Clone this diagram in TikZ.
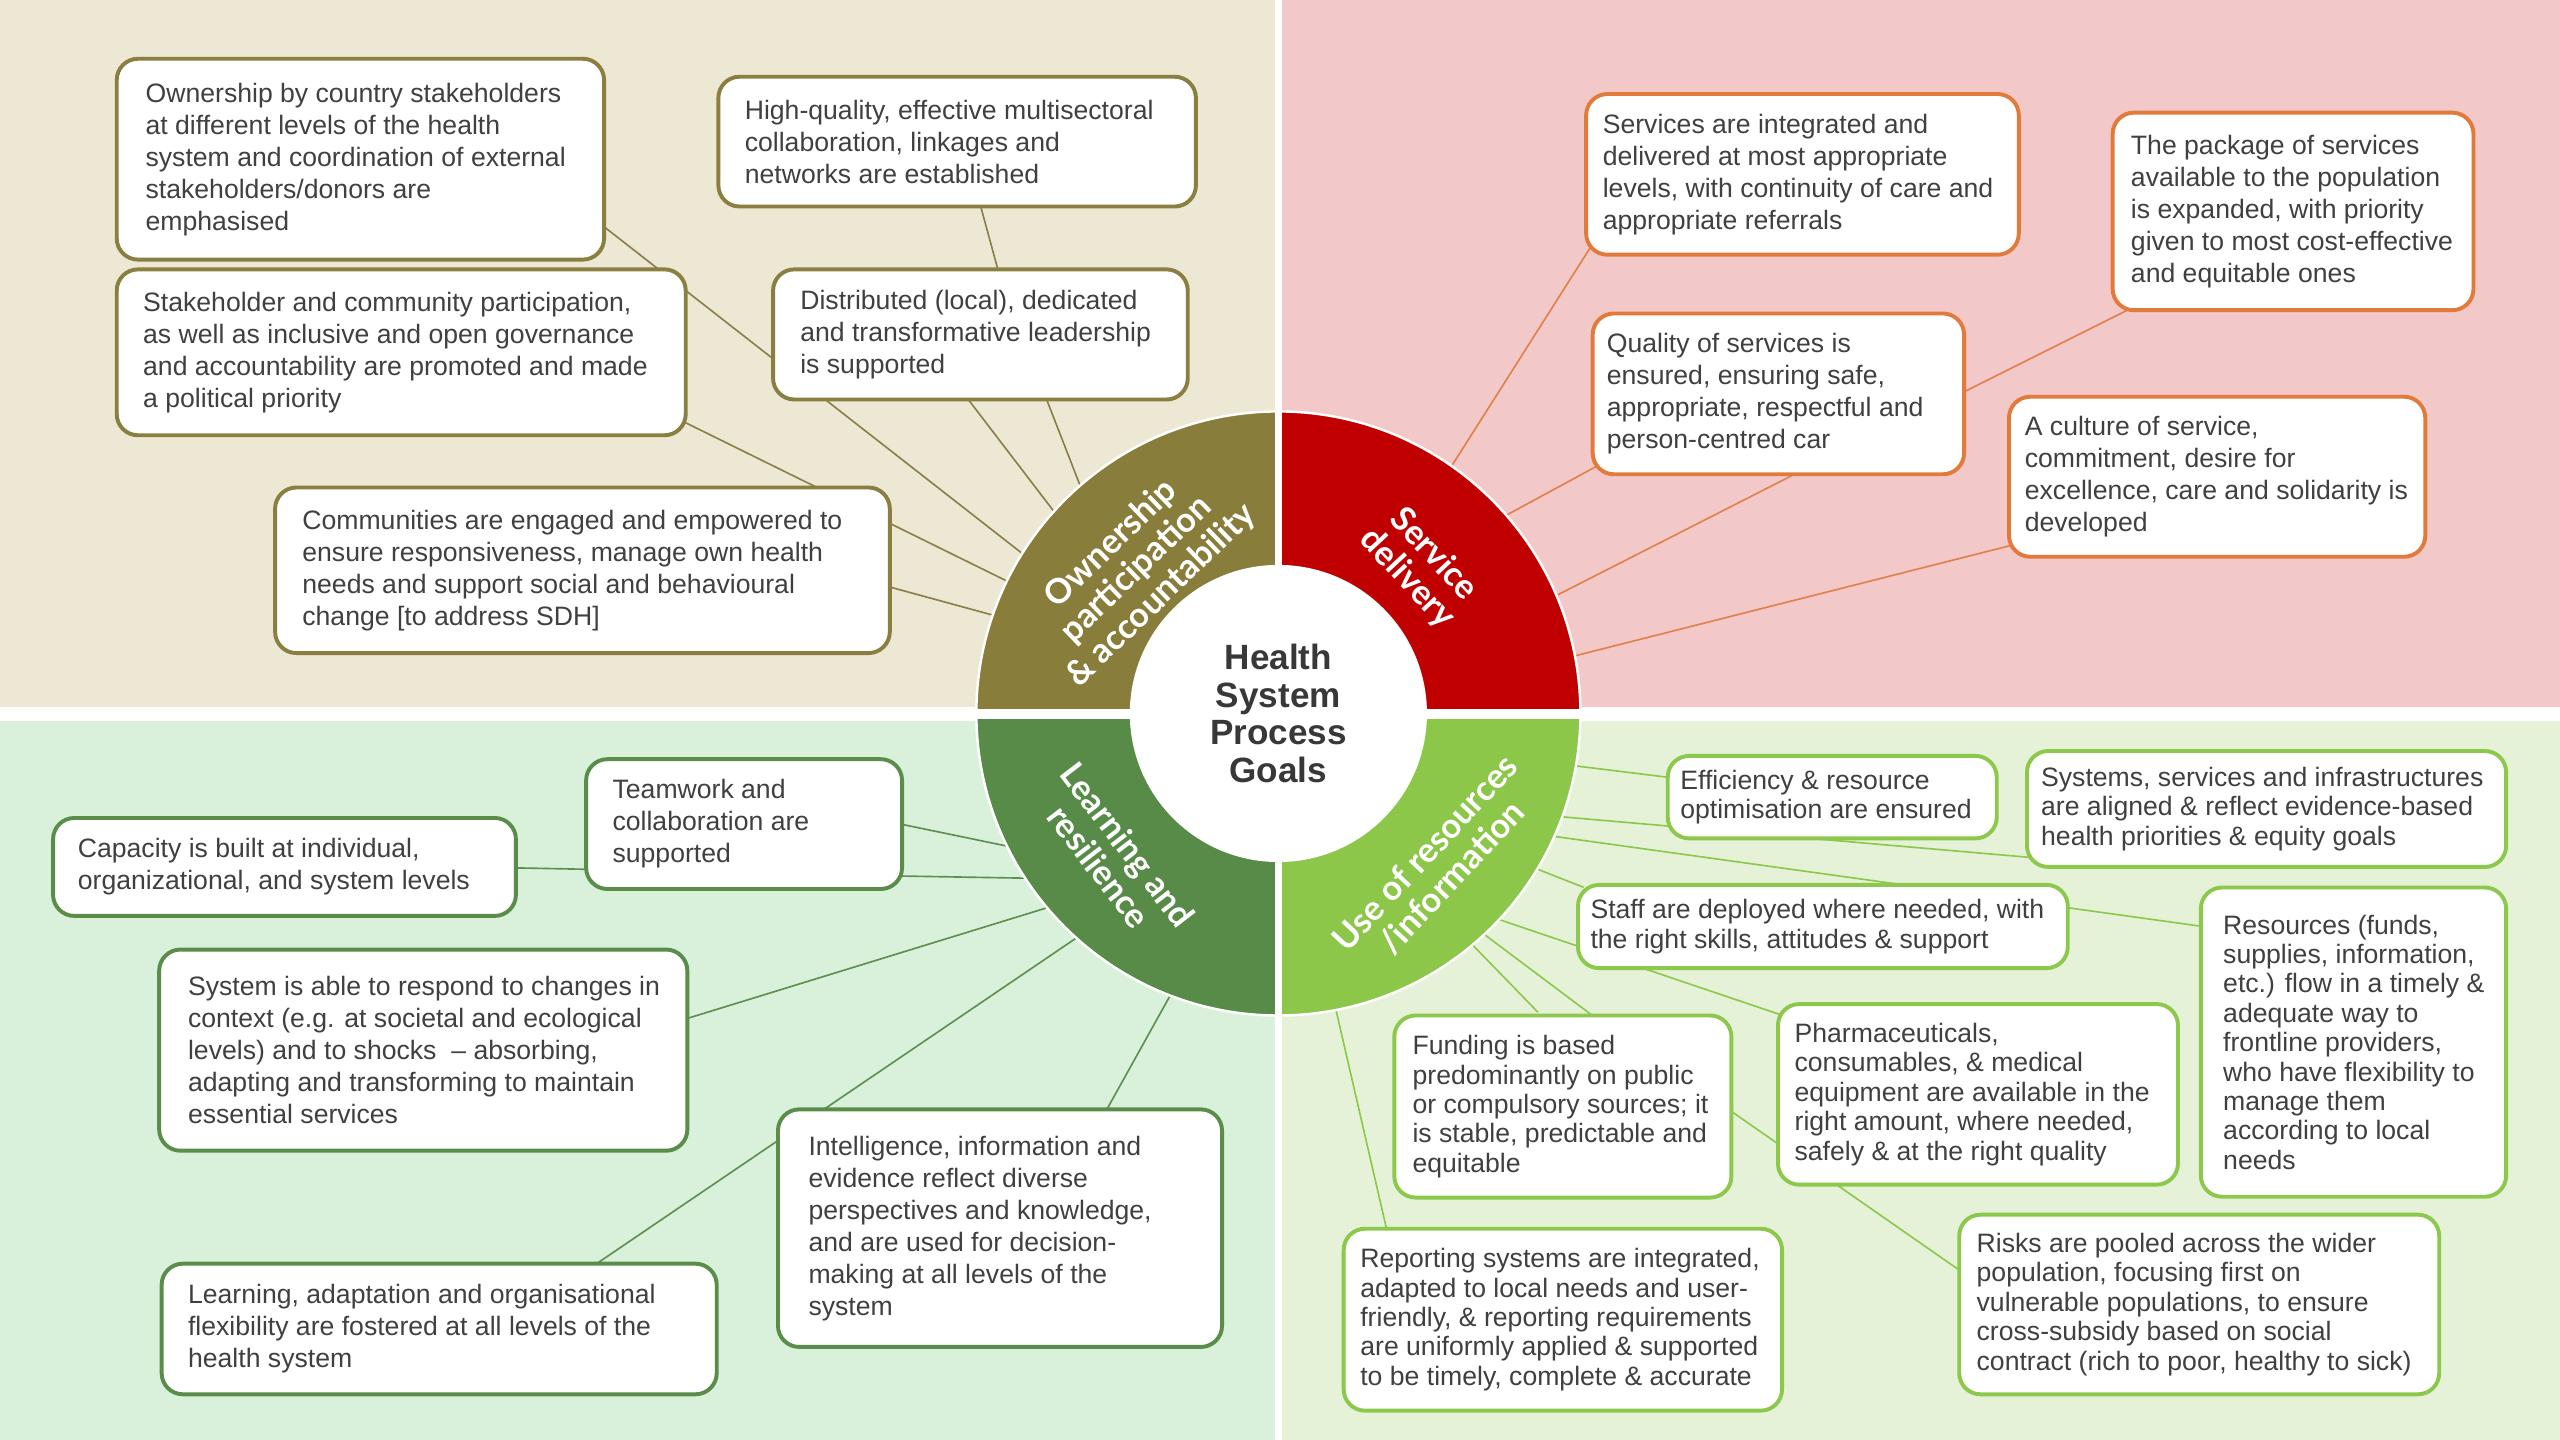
\documentclass[tikz,border=0pt]{standalone}
\usepackage{fontspec}
\setmainfont{Liberation Sans}
\newfontfamily\ringfont{Lato}
\usetikzlibrary{calc}
\definecolor{cTLbg}{HTML}{ECE8D4}
\definecolor{cTRbg}{HTML}{F2C9C8}
\definecolor{cBLbg}{HTML}{D9F0DB}
\definecolor{cBRbg}{HTML}{E6F2D8}
\definecolor{cOlive}{HTML}{897D3C}
\definecolor{cRed}{HTML}{C00000}
\definecolor{cDkGreen}{HTML}{578B47}
\definecolor{cLtGreen}{HTML}{8CC74A}
\definecolor{cTLbd}{HTML}{8A7E40}
\definecolor{cTRbd}{HTML}{E27A3C}
\definecolor{cBLbd}{HTML}{5A8D4A}
\definecolor{cBRbd}{HTML}{8CC84B}
\definecolor{cTLln}{HTML}{8A7E4A}
\definecolor{cTRln}{HTML}{E0804A}
\definecolor{cBLln}{HTML}{5F8F50}
\definecolor{cBRln}{HTML}{8CC84B}
\definecolor{txt}{HTML}{404040}
\definecolor{ttl}{HTML}{383838}
\tikzset{
  gbox/.style={rectangle, rounded corners=13pt, line width=2.4pt, fill=white, inner sep=0pt},
  tlbox/.style={gbox, draw=cTLbd},
  trbox/.style={gbox, draw=cTRbd},
  blbox/.style={gbox, draw=cBLbd},
  brbox/.style={gbox, draw=cBRbd},
  boxtext/.style={inner sep=0pt, align=left, text=txt, font=\fontsize{16.3}{19.6}\selectfont},
  brtext/.style={boxtext, font=\fontsize{16.3}{18}\selectfont},
  tlline/.style={draw=cTLln, line width=1pt},
  trline/.style={draw=cTRln, line width=1pt},
  blline/.style={draw=cBLln, line width=1pt},
  brline/.style={draw=cBRln, line width=1pt},
  ringlabel/.style={text=white, align=center, inner sep=0pt, font=\ringfont\bfseries\fontsize{21}{22}\selectfont},
}
\newcommand{\hsbox}[9]{%
  \node[#2, minimum width={((#6)-(#4))*1pt}, minimum height={((#7)-(#5))*1pt}] (#1) at ({(#4+#6)/2},{(#5+#7)/2}) {};
  \node[#3, anchor=west] (#1t) at ({#4+#8},{(#5+#7)/2}) {#9};
}
\begin{document}
\begin{tikzpicture}[x=1pt, y=-1pt]
\useasboundingbox (0,0) rectangle (1568,882);
% backgrounds
\fill[white] (0,0) rectangle (1568,882);
\fill[cTLbg] (0,0) rectangle (781,433);
\fill[cTRbg] (785.5,0) rectangle (1568,433);
\fill[cBLbg] (0,441.5) rectangle (781,882);
\fill[cBRbg] (785.5,441.5) rectangle (1568,882);

\node[circle, minimum size=370pt, inner sep=0pt] (ring) at (783,437) {};

% connector end points
\coordinate (c1) at (365,135);
\coordinate (c2a) at (600,124);
\coordinate (c2b) at (612,168);
\coordinate (c3) at (591,242);
\coordinate (c4) at (640,242);
\coordinate (c5) at (414,256);
\coordinate (c6) at (543,359);
\coordinate (c7) at (977,147);
\coordinate (c8a) at (1309,187);
\coordinate (c8b) at (1199,242);
\coordinate (c9) at (979,285);
\coordinate (c10) at (1104,288);
\coordinate (c11) at (1236,333);
\coordinate (c12) at (548,504);
\coordinate (c13) at (548,536.5);
\coordinate (c14a) at (312,531.5);
\coordinate (c14b) at (362,532.5);
\coordinate (c15) at (417,625);
\coordinate (c16) at (361,777);
\coordinate (c17) at (676,683);
\coordinate (c18) at (1025,476.5);
\coordinate (c19) at (1245,525.3);
\coordinate (c20) at (1353,568);
\coordinate (c21) at (970,543.5);
\coordinate (c22) at (1092,622);
\coordinate (c23) at (978,624);
\coordinate (c24) at (942,620);
\coordinate (c25a) at (1058,679);
\coordinate (c25b) at (1203,780);
\coordinate (c26) at (850,756);

% connectors
\draw[tlline] (ring.148) -- (c1);
\draw[tlline] (c2a) -- (c2b);
\draw[tlline] (ring.138) -- (c3);
\draw[tlline] (ring.131) -- (c4);
\draw[tlline] (ring.154) -- (c5);
\draw[tlline] (ring.161) -- (c6);
\draw[trline] (ring.55) -- (c7);
\draw[trline] (c8a) -- (c8b);
\draw[trline] (ring.41) -- (c9);
\draw[trline] (ring.23) -- (c10);
\draw[trline] (ring.11) -- (c11);
\draw[blline] (ring.206) -- (c12);
\draw[blline] (ring.213) -- (c13);
\draw[blline] (c14a) -- (c14b);
\draw[blline] (ring.220) -- (c15);
\draw[blline] (ring.228) -- (c16);
\draw[blline] (ring.249) -- (c17);
\draw[brline] (ring.350) -- (c18);
\draw[brline] (ring.340) -- (c19);
\draw[brline] (ring.336) -- (c20);
\draw[brline] (ring.329) -- (c21);
\draw[brline] (ring.317) -- (c22);
\draw[brline] (ring.313) -- (c23);
\draw[brline] (ring.310) -- (c24);
\draw[brline] (c25a) -- (c25b);
\draw[brline] (ring.281) -- (c26);

% boxes top-left
\hsbox{b1}{tlbox}{boxtext}{71.5}{36}{370}{159}{17.5}{Ownership by country stakeholders\\at different levels of the health\\system and coordination of external\\stakeholders/donors are\\emphasised}
\hsbox{b2}{tlbox}{boxtext}{440}{47}{732.5}{126.5}{16}{High-quality, effective multisectoral\\collaboration, linkages and\\networks are established}
\hsbox{b3}{tlbox}{boxtext}{71.5}{165}{420}{266.6}{16}{Stakeholder and community participation,\\as well as inclusive and open governance\\and accountability are promoted and made\\a political priority}
\hsbox{b4}{tlbox}{boxtext}{473.5}{165}{727.5}{244.7}{16.5}{Distributed (local), dedicated\\and transformative leadership\\is supported}
\hsbox{b5}{tlbox}{boxtext}{168.5}{298.6}{545}{400}{16.5}{Communities are engaged and empowered to\\ensure responsiveness, manage own health\\needs and support social and behavioural\\change [to address SDH]}
% top-right
\hsbox{b6}{trbox}{boxtext}{971.5}{57.6}{1236.5}{156}{10}{Services are integrated and\\delivered at most appropriate\\levels, with continuity of care and\\appropriate referrals}
\hsbox{b7}{trbox}{boxtext}{1294}{69}{1515}{190}{11}{The package of services\\available to the population\\is expanded, with priority\\given to most cost-effective\\and equitable ones}
\hsbox{b8}{trbox}{boxtext}{975.5}{192}{1203}{290.5}{8.5}{Quality of services is\\ensured, ensuring safe,\\appropriate, respectful and\\person-centred car}
\hsbox{b9}{trbox}{boxtext}{1230.5}{243}{1485.5}{341}{9.5}{A culture of service,\\commitment, desire for\\excellence, care and solidarity is\\developed}
% bottom-left
\hsbox{b10}{blbox}{boxtext}{359}{465}{552.5}{544.5}{16}{Teamwork and\\collaboration are\\supported}
\hsbox{b11}{blbox}{boxtext}{32.5}{501}{316}{561}{15}{Capacity is built at individual,\\organizational, and system levels}
\hsbox{b12}{blbox}{boxtext}{97.5}{581.6}{421}{704.8}{17.5}{System is able to respond to changes in\\context (e.g. at societal and ecological\\levels) and to shocks\ \ – absorbing,\\adapting and transforming to maintain\\essential services}
\hsbox{b13}{blbox}{boxtext}{476.5}{679.5}{748.5}{825}{18.5}{Intelligence, information and\\evidence reflect diverse\\perspectives and knowledge,\\and are used for decision-\\making at all levels of the\\system}
\hsbox{b14}{blbox}{boxtext}{99}{774}{439}{854}{16}{Learning, adaptation and organisational\\flexibility are fostered at all levels of the\\health system}
% bottom-right
\hsbox{b15}{brbox}{brtext}{1021.5}{463}{1223}{513.5}{7.5}{Efficiency \& resource\\optimisation are ensured}
\hsbox{b16}{brbox}{brtext}{1241.5}{460}{1535}{531}{8.5}{Systems, services and infrastructures\\are aligned \& reflect evidence-based\\health priorities \& equity goals}
\hsbox{b17}{brbox}{brtext}{966.5}{542}{1266.5}{593}{7.5}{Staff are deployed where needed, with\\the right skills, attitudes \& support}
\hsbox{b18}{brbox}{brtext}{1348}{543.6}{1535}{733}{13.5}{Resources (funds,\\supplies, information,\\etc.) flow in a timely \&\\adequate way to\\frontline providers,\\who have flexibility to\\manage them\\according to local\\needs}
\hsbox{b19}{brbox}{brtext}{854}{622}{1060.5}{733.5}{11}{Funding is based\\predominantly on public\\or compulsory sources; it\\is stable, predictable and\\equitable}
\hsbox{b20}{brbox}{brtext}{1089}{615}{1334}{725.6}{10}{Pharmaceuticals,\\consumables, \& medical\\equipment are available in the\\right amount, where needed,\\safely \& at the right quality}
\hsbox{b21}{brbox}{brtext}{823}{752.6}{1091.5}{864}{10}{Reporting systems are integrated,\\adapted to local needs and user-\\friendly, \& reporting requirements\\are uniformly applied \& supported\\to be timely, complete \& accurate}
\hsbox{b22}{brbox}{brtext}{1200}{744}{1494}{854}{10.5}{Risks are pooled across the wider\\population, focusing first on\\vulnerable populations, to ensure\\cross-subsidy based on social\\contract (rich to poor, healthy to sick)}

% ring
\begin{scope}\clip (0,0) rectangle (783,437); \fill[cOlive] (ring.center) circle[radius=185pt]; \end{scope}
\begin{scope}\clip (783,0) rectangle (1568,437); \fill[cRed] (ring.center) circle[radius=185pt]; \end{scope}
\begin{scope}\clip (0,437) rectangle (783,882); \fill[cDkGreen] (ring.center) circle[radius=185pt]; \end{scope}
\begin{scope}\clip (783,437) rectangle (1568,882); \fill[cLtGreen] (ring.center) circle[radius=185pt]; \end{scope}
\draw[white, line width=1.5pt] (ring.center) circle[radius=185pt];
\fill[white] (781,245) rectangle (785,630);
\fill[white] (590,434) rectangle (977,440.5);
\fill[white] (ring.center) circle[radius=91pt];

\node[ringlabel, rotate=44] (lown) at (696,349) {Ownership\\participation\\\& accountability};
\node[ringlabel, rotate=-47] (lserv) at (870,347) {Service\\delivery};
\node[ringlabel, rotate=-52.5] (llearn) at (682,524) {Learning and\\resilience};
\node[ringlabel, rotate=47] (luse) at (881,530) {Use of resources\\/information};

\node[align=center, text=ttl, inner sep=0pt, font=\bfseries\fontsize{21.5}{23}\selectfont] (title) at (783,437) {Health\\System\\Process\\Goals};
\end{tikzpicture}
\end{document}
